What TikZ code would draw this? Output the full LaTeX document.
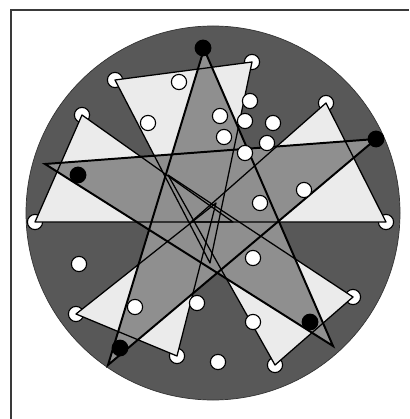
\documentclass[tikz,border=0pt]{standalone}
\usepackage{tikz}
\usetikzlibrary{calc}
\definecolor{framegray}{HTML}{3A3A3A}
\definecolor{diskgray}{HTML}{585858}
\definecolor{trigray}{HTML}{EBEBEB}
\definecolor{stargray}{HTML}{8F8F8F}

\begin{document}
\begin{tikzpicture}[
    x=0.025cm, y=-0.025cm,
    wdot/.style={circle, draw=black, fill=white, line width=0.8pt, minimum size=0.38cm, inner sep=0pt},
    bdot/.style={circle, fill=black, minimum size=0.42cm, inner sep=0pt},
    triedge/.style={draw=black, line width=0.9pt, line join=round},
    staredge/.style={draw=black, line width=1.4pt},
]
\useasboundingbox (0,0) rectangle (409,419);

% frame and disk
\draw[framegray, line width=1.2pt] (11,419) -- (11,10) -- (409,10);
\filldraw[fill=diskgray, draw=black!80, line width=0.5pt] (213,213) circle (187);

% triangle corners
\coordinate (v1) at (115,80);   \coordinate (v2) at (252,62);   \coordinate (at) at (210,263);
\coordinate (v3) at (326,103);  \coordinate (v4) at (386,222);  \coordinate (ar) at (191,222);
\coordinate (v5) at (353,297);  \coordinate (v6) at (275,365);  \coordinate (abr) at (168,175);
\coordinate (v7) at (177,356);  \coordinate (v8) at (76,314);   \coordinate (abl) at (216,203);
\coordinate (v9) at (35,222);   \coordinate (v10) at (82,115);  \coordinate (al) at (233,222);

% star tips
\coordinate (T) at (204,49);
\coordinate (R) at (376,139);
\coordinate (BR) at (333,346);
\coordinate (BL) at (108,365);
\coordinate (L) at (45,164);

\foreach \v in {v1,v2,v3,v4,v5,v6,v7,v8,v9,v10}
    \node[wdot] (d\v) at (\v) {};

\foreach \a/\b/\c in {v1/v2/at, v3/v4/ar, v5/v6/abr, v7/v8/abl, v9/v10/al}
    \fill[trigray] (\a) -- (\b) -- (\c) -- cycle;

\fill[stargray] (T) -- (BL) -- (R) -- (L) -- (BR) -- cycle;

\foreach \a/\b/\c in {v1/v2/at, v3/v4/ar, v5/v6/abr, v7/v8/abl, v9/v10/al}
    \path[triedge] (\a) -- (\b) -- (\c) -- cycle;

\path[staredge] (T) -- (BL) -- (R) -- (L) -- (BR) -- cycle;

% marked points
\foreach \p [count=\i] in {(203,48),(376,139),(78,175),(120,348),(310,322)}
    \node[bdot] (b\i) at \p {};

\foreach \p [count=\i] in {(179,82),(148,123),(250,101),(220,116),(245,121),(273,123),
    (224,137),(267,143),(245,153),(304,190),(260,203),(253,258),(253,322),(218,362),
    (135,307),(197,303),(79,264)}
    \node[wdot] (w\i) at \p {};

\end{tikzpicture}
\end{document}
